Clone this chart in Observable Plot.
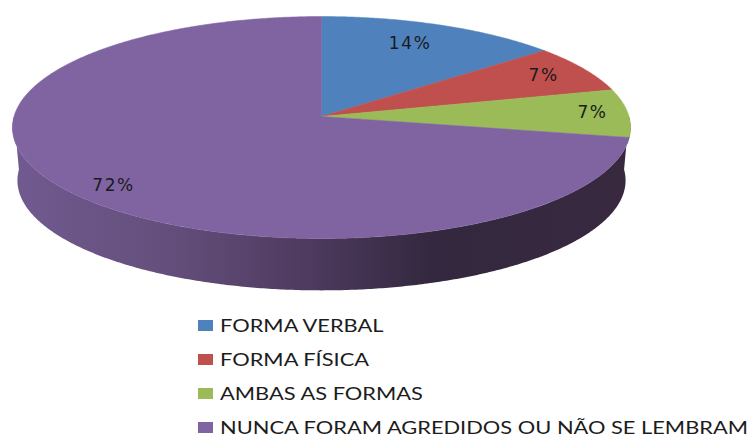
<!DOCTYPE html>
<html lang="pt">
<head>
<meta charset="utf-8">
<script src="https://cdn.jsdelivr.net/npm/d3@7"></script>
<script src="https://cdn.jsdelivr.net/npm/@observablehq/plot@0.6"></script>
<style>
  html, body { margin: 0; padding: 0; background: #fff; overflow: hidden; }
  #chart svg { display: block; }
  #chart text { letter-spacing: 1.6px; }
  #legend { padding: 8.5px 0 0 198px; font: 17.5px Lato, sans-serif; color: #1c1c1c; white-space: nowrap; }
  .row { display: flex; align-items: center; height: 17px; margin-bottom: 17.3px; }
  .swatch { width: 15px; height: 11px; margin-right: 7px; flex: none; }
  .name { display: inline-block; transform-origin: left center; }
</style>
</head>
<body>
<div id="chart"></div>
<div id="legend"></div>
<script>
const categories = ["FORMA VERBAL", "FORMA FÍSICA", "AMBAS AS FORMAS", "NUNCA FORAM AGREDIDOS OU NÃO SE LEMBRAM"];
const shares = [14, 7, 7, 72];
const colors = ["#4f81bd", "#c0504d", "#9bbb59", "#8064a2"];

// label placement inside each slice: fraction of the radius, and degrees off the slice's middle
const labelRadius = [0.774, 0.844, 0.885, 0.869];
const labelTurn = [-1.7, -0.3, -0.5, -3.3];

// view: a tilted disc seen in perspective
const W = 749, H = 308;
const cx = 321, cy = 116, A = 307.5, B = 109.9, k = 0.0991;
const project = (deg, r = 1) => {
  const t = deg * Math.PI / 180, u = r * Math.sin(t), v = r * Math.cos(t), w = 1 + k * v;
  return {x: cx + A * u / w, y: cy - B * v / w};
};
const lower = (p) => ({x: cx + (p.x - cx) * 0.984, y: 180 + (p.y - 127) * 0.99});

const total = d3.sum(shares);
const ends = d3.cumsum(shares).map((s) => s / total * 360);
const starts = ends.map((e, i) => (i ? ends[i - 1] : 0));

const slices = categories.flatMap((category, i) => {
  const arc = d3.range(starts[i], ends[i], 0.5).concat(ends[i]).map((a) => project(a));
  return [project(0, 0), ...arc, project(0, 0)].map((p) => ({...p, category}));
});

const rim = d3.range(90, 270.5, 0.5).map((a) => project(a));
const wall = [...rim, ...rim.slice().reverse().map(lower), rim[0]];

const labels = categories.map((category, i) => ({
  ...project((starts[i] + ends[i]) / 2 + labelTurn[i], labelRadius[i]),
  text: shares[i] + "%"
}));

const wallGradient = () => {
  const defs = d3.create("svg:defs");
  const g = defs.append("linearGradient").attr("id", "wallShade")
    .attr("gradientUnits", "userSpaceOnUse")
    .attr("x1", cx - A - 2).attr("x2", cx + A + 2).attr("y1", 0).attr("y2", 0);
  [[0, "#715a90"], [0.25, "#644f7c"], [0.47, "#4f3b60"], [0.68, "#33283f"], [1, "#38293f"]]
    .forEach(([o, c]) => g.append("stop").attr("offset", o).attr("stop-color", c));
  return defs.node();
};

const chart = Plot.plot({
  width: W,
  height: H,
  margin: 0,
  x: {domain: [0, W], range: [0, W], axis: null},
  y: {domain: [0, H], range: [0, H], axis: null},
  color: {domain: categories, range: colors},
  style: {background: "transparent"},
  marks: [
    wallGradient,
    Plot.line(wall, {x: "x", y: "y", fill: "url(#wallShade)", stroke: "none"}),
    Plot.line(slices, {x: "x", y: "y", z: "category", fill: "category", stroke: "category", strokeWidth: 0.5}),
    Plot.text(labels, {x: "x", y: "y", text: "text", fontSize: 17, fill: "#1a1a1a", fontFamily: "DejaVu Sans"})
  ]
});
document.getElementById("chart").append(chart);

const legend = d3.select("#legend");
const names = categories.map((c, i) => {
  const row = legend.append("div").attr("class", "row");
  row.append("span").attr("class", "swatch").style("background", colors[i]);
  return row.append("span").attr("class", "name").text(c).node();
});
// the reference's legend text is stretched sideways: fit the longest entry to its width
const stretch = 528 / names[names.length - 1].getBoundingClientRect().width;
names.forEach((n) => { n.style.transform = `scaleX(${stretch})`; });
</script>
</body>
</html>
